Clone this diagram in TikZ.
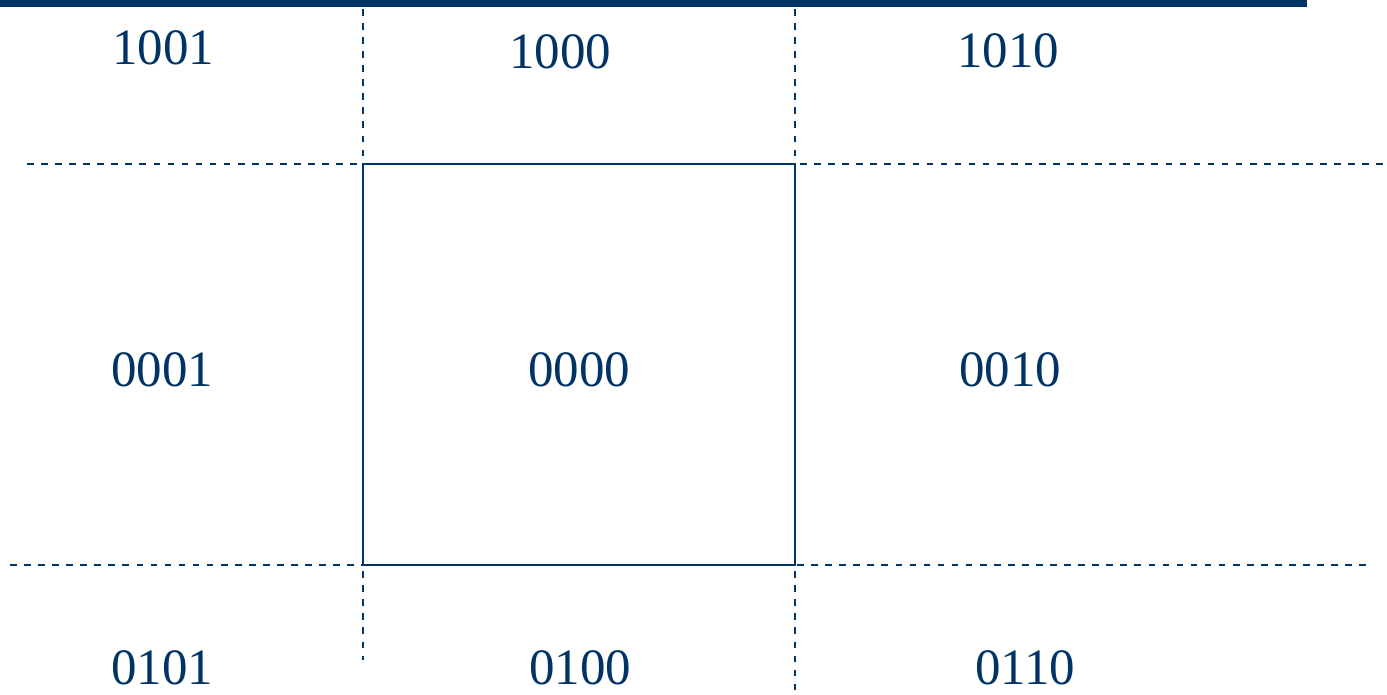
\documentclass[tikz,border=0pt]{standalone}
\usepackage{fontspec}
\setmainfont{Liberation Serif}
\definecolor{navy}{RGB}{0,51,102}

\begin{document}
\begin{tikzpicture}[x=0.02cm, y=-0.02cm,
    regline/.style={navy, line width=1.2pt, dash pattern=on 3.8pt off 4.2pt},
    winline/.style={navy, line width=1.2pt},
    regioncode/.style={text=navy, font=\fontsize{29}{34}\selectfont, inner sep=0pt}]
  \useasboundingbox (0,0) rectangle (1387,694);
  % top rule
  \fill[navy] (0,0) rectangle (1307,7);
  % clipping window corners
  \coordinate (wtl) at (363,164);
  \coordinate (wbr) at (795,565);
  % dashed extensions of the window edges
  \draw[regline] (363,9) -- (363,660);
  \draw[regline] (795,9) -- (795,694);
  \draw[regline] (27,164) -- (1387,164);
  \draw[regline] (10,565) -- (1372,565);
  % the window itself
  \draw[winline] (wtl) rectangle (wbr);
  % region codes
  \foreach \lbl/\x/\y in {1001/163/48, 1000/560/52, 1010/1008/51,
                          0001/162/370, 0000/579/370, 0010/1010/370,
                          0101/162/668, 0100/580/668, 0110/1025/668}{
    \node[regioncode] (r\lbl) at (\x,\y) {\lbl};
  }
\end{tikzpicture}
\end{document}
